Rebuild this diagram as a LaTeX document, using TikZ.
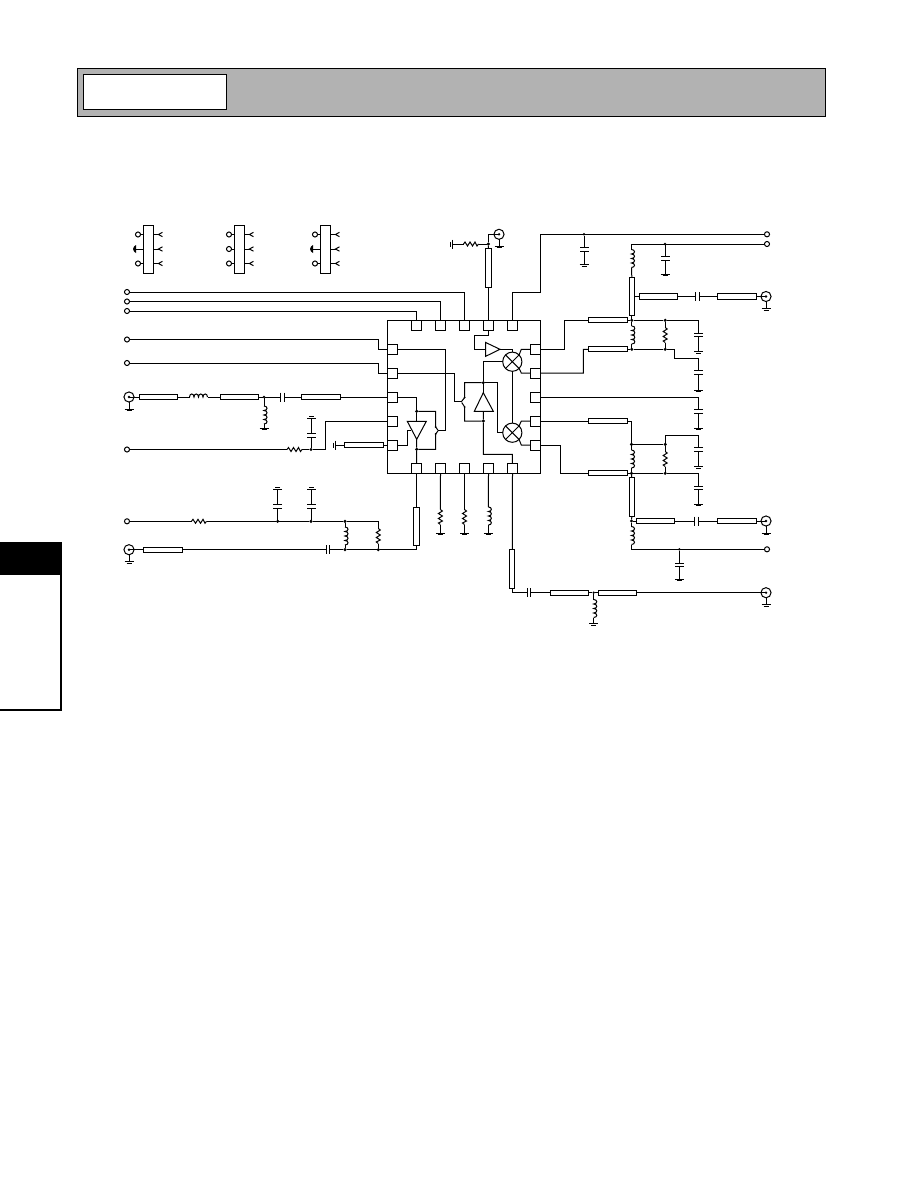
\documentclass[tikz,border=0pt]{standalone}
\usetikzlibrary{calc}
\tikzset{
  wire/.style={line width=0.75pt,line cap=butt,line join=miter},
  tlh/.style={draw,line width=0.75pt,fill=white,inner sep=0,outer sep=0,minimum width=29.2pt,minimum height=4pt},
  tlv/.style={draw,line width=0.75pt,fill=white,inner sep=0,outer sep=0,minimum width=4pt,minimum height=29.2pt},
  pinbox/.style={draw,line width=0.75pt,fill=white,inner sep=0,outer sep=0,minimum size=7.5pt},
  dotn/.style={circle,fill=black,inner sep=0,outer sep=0,minimum size=2.6pt},
  term/.style={circle,draw,line width=0.75pt,fill=white,inner sep=0,outer sep=0,minimum size=3.8pt},
  portn/.style={circle,draw,line width=0.75pt,fill=white,inner sep=0,outer sep=0,minimum size=7.6pt},
  mixn/.style={circle,draw,line width=0.75pt,inner sep=0,outer sep=0,minimum size=14.4pt},
  legbox/.style={draw,line width=0.75pt,fill=white,inner sep=0,outer sep=0,minimum width=7.5pt,minimum height=36pt},
  res/.pic={
    \draw[wire] (-7.5,0)--(-6,-2)--(-3.5,2)--(-1,-2)--(1.5,2)--(4,-2)--(6,2)--(7.5,0);
    \coordinate (-a) at (-7.5,0); \coordinate (-b) at (7.5,0);
  },
  ind/.pic={
    \draw[wire] (-9,0) .. controls (-9,-4) and (-4.5,-4) .. (-4.5,0)
       .. controls (-4.5,-4) and (0,-4) .. (0,0)
       .. controls (0,-4) and (4.5,-4) .. (4.5,0)
       .. controls (4.5,-4) and (9,-4) .. (9,0);
    \coordinate (-a) at (-9,0); \coordinate (-b) at (9,0);
  },
  cap/.pic={
    \draw[wire] (-1.8,-4.5)--(-1.8,4.5) (1.8,-4.5)--(1.8,4.5);
    \coordinate (-a) at (-1.8,0); \coordinate (-b) at (1.8,0);
  },
  gnd/.pic={
    \draw[wire] (-4.5,0)--(4.5,0);
    \draw[line width=0.75pt] (-2.5,1.5)--(2.5,1.5);
    \coordinate (-a) at (0,0);
  },
  fork/.pic={
    \draw[wire] (4,-2.2)--(0,0)--(4,2.2);
    \coordinate (-a) at (0,0);
  }
}
\newcommand{\legend}[4]{% name, x-centre, middle-type(0 term,1 gnd), (unused)
  \node[legbox] (#1) at (#2,249) {};
  \node[term] (#1t) at (#2-10.5,234.5) {};
  \node[term] (#1b) at (#2-10.5,263.5) {};
  \draw[wire] (#1t) -- (#1.west |- #1t);
  \draw[wire] (#1b) -- (#1.west |- #1b);
  \pic at (#2+10,234.5) {fork};
  \pic at (#2+10,249) {fork};
  \pic at (#2+10,263.5) {fork};
  \draw[wire] (#1.east |- 0,234.5) -- (#2+10,234.5);
  \draw[wire] (#1.east |- 0,249) -- (#2+10,249);
  \draw[wire] (#1.east |- 0,263.5) -- (#2+10,263.5);
  \ifnum#3=1
    \coordinate (#1g) at (#2-14,249);
    \fill (#1g) ++(1.5,-4) -- ++(0,8) -- ++(-2,-1.5) -- ++(-1,-2.5) -- ++(1,-2.5) -- cycle;
    \draw[wire] (#1g) -- (#1.west |- #1g);
  \else
    \node[term] (#1m) at (#2-10.5,249) {};
    \draw[wire] (#1m) -- (#1.west |- #1m);
  \fi
}
\newcommand{\port}[3]{% name, x, y
  \coordinate (#1) at (#2,#3);
  \node[portn] (#1c) at (#2,#3) {};
  \fill (#2,#3) circle[radius=1.3];
  \draw[wire] (#1c.south) -- (#2,#3+12);
  \pic at (#2,#3+12) {gnd};
}
\begin{document}
\begin{tikzpicture}[x=0.75pt,y=-0.75pt,line width=0.75pt]
\useasboundingbox (0,0) rectangle (918,1188);
% header
\node[draw,line width=0.75pt,fill=black!30,inner sep=0,outer sep=0,minimum width=561pt,minimum height=35.3pt] (hdr) at (451,92.5) {};
\node[draw,line width=0.75pt,fill=white,inner sep=0,outer sep=0,minimum width=107.2pt,minimum height=26.2pt] (hdrbox) at (155,92) {};
% side tab
\fill (0,542) rectangle (62,575);
\draw[line width=1.5pt] (61,542) -- (61,710) -- (0,710);
% legend
\legend{la}{148.5}{1}{}
\legend{lb}{239.5}{0}{}
\legend{lc}{325.5}{1}{}
% chip
\node[draw,line width=0.75pt,fill=white,inner sep=0,outer sep=0,minimum size=114.8pt] (chip) at (464,397) {};
\foreach \n/\x in {1/416.5,2/440.5,3/464.5,4/488.5,5/512.5}{
  \node[pinbox] (pT\n) at (\x,325.3) {};
  \node[pinbox] (pB\n) at (\x,468.5) {};
}
\foreach \n/\y in {1/349.3,2/373,3/397,4/421,5/445}{
  \node[pinbox] (pL\n) at (392.3,\y) {};
  \node[pinbox] (pR\n) at (535.3,\y) {};
}
% terminals left
\node[term] (tA) at (127,292) {};
\node[term] (tB) at (127,301.5) {};
\node[term] (tC) at (127,311) {};
\node[term] (tD) at (127,339.5) {};
\node[term] (tE) at (127,363) {};
\node[term] (tF) at (127,449.5) {};
\node[term] (tG) at (127,521.3) {};
\draw[wire] (tA) -| (pT3.north);
\draw[wire] (tB) -| (pT2.north);
\draw[wire] (tC) -| (pT1.north);
\draw[wire] (tD) -- (378,339.5) |- (pL1.west);
\draw[wire] (tE) -- (378,363) |- (pL2.west);
% left RF input
\port{pA}{129}{397}
\node[tlh] (t1) at (158.5,397) {};
\pic (l1) at (198.5,397) {ind};
\node[tlh] (t2) at (239.5,397) {};
\node[dotn,minimum size=2pt] (d1) at (264,397) {};
\pic (c1) at (282.5,397) {cap};
\node[tlh] (t3) at (321,397) {};
\pic[rotate=-90] (l2) at (264,415) {ind};
\pic (g1) at (264,428) {gnd};
\draw[wire] (pA) -- (t1.west);
\draw[wire] (t1.east) -- (l1-a);
\draw[wire] (l1-b) -- (t2.west);
\draw[wire] (t2.east) -- (d1) -- (c1-a);
\draw[wire] (c1-b) -- (t3.west);
\draw[wire] (t3.east) -- (pL3.west);
\draw[wire] (d1) -- (l2-a);
\draw[wire] (l2-b) -- (g1-a);
% left mid
\pic (r1) at (294.5,449.5) {res};
\node[dotn] (d2) at (311,449.5) {};
\pic[rotate=-90] (c2) at (311,435.3) {cap};
\pic[rotate=180] (g2) at (311,418.3) {gnd};
\draw[wire] (tF) -- (r1-a);
\draw[wire] (r1-b) -- (d2);
\draw[wire] (d2) -- (325.5,449.5) |- (pL4.west);
\draw[wire] (d2) -- (c2-b);
\draw[wire] (c2-a) -- (g2-a);
\node[tlh] (t4) at (364,445) {};
\pic[rotate=-90] (g3) at (335,445) {gnd};
\draw[wire] (g3-a) -- (t4.west);
\draw[wire] (t4.east) -- (pL5.west);
% lower left
\pic (r2) at (199,521.3) {res};
\node[dotn] (d3) at (277.7,521.3) {};
\node[dotn] (d4) at (311,521.3) {};
\node[dotn] (d5) at (345,521.3) {};
\coordinate (j1) at (378.3,521.3);
\pic[rotate=-90] (c3) at (277.7,506.7) {cap};
\pic[rotate=-90] (c4) at (311,506.7) {cap};
\pic[rotate=180] (g4) at (277.7,489.3) {gnd};
\pic[rotate=180] (g5) at (311,489.3) {gnd};
\pic[rotate=-90] (l3) at (345,536) {ind};
\pic[rotate=-90] (r3) at (378.3,536) {res};
\draw[wire] (tG) -- (r2-a);
\draw[wire] (r2-b) -- (d3) -- (d4) -- (d5) -- (j1) -- (r3-a);
\draw[wire] (d3) -- (c3-b);
\draw[wire] (d4) -- (c4-b);
\draw[wire] (c3-a) -- (g4-a);
\draw[wire] (c4-a) -- (g5-a);
\draw[wire] (d5) -- (l3-a);
\port{pB}{129}{549.7}
\node[tlh] (t5) at (163,549.7) {};
\pic (c5) at (328,549.7) {cap};
\node[dotn] (d6) at (345,549.7) {};
\node[dotn] (d7) at (378.3,549.7) {};
\node[tlv] (t6) at (416.5,526.5) {};
\draw[wire] (pB) -- (t5.west);
\draw[wire] (t5.east) -- (c5-a);
\draw[wire] (c5-b) -- (d6) -- (d7) -- (416.5,549.7) -- (t6.south);
\draw[wire] (t6.north) -- (pB1.south);
\draw[wire] (l3-b) -- (d6);
\draw[wire] (r3-b) -- (d7);
% top
\node[tlv] (t7) at (488.5,268.3) {};
\node[dotn] (d8) at (488.4,244) {};
\pic (r4) at (471,244) {res};
\pic[rotate=-90] (g6) at (452.3,244) {gnd};
\port{pC}{499}{234.3}
\draw[wire] (pT4.north) -- (t7.south);
\draw[wire] (t7.north) -- (d8);
\draw[wire] (d8) -- (r4-b);
\draw[wire] (r4-a) -- (g6-a);
\draw[wire] (d8) |- (pC);
% top right rails
\node[term] (tH) at (767,234.3) {};
\node[term] (tI) at (767,244) {};
\node[dotn,minimum size=2pt] (d9) at (584,234.3) {};
\pic[rotate=-90] (c6) at (584,249.5) {cap};
\pic (g7) at (584,264.5) {gnd};
\draw[wire] (pT5.north) |- (540.7,292.3) |- (tH);
\draw[wire] (d9) -- (c6-a);
\draw[wire] (c6-b) -- (g7-a);
\coordinate (j2) at (631.5,244);
\node[dotn,minimum size=2pt] (d10) at (665,244) {};
\pic[rotate=-90] (c7) at (665,258.5) {cap};
\pic (g8) at (665,274.3) {gnd};
\pic[rotate=-90] (l4) at (631.5,258.5) {ind};
\draw[wire] (j2) -- (tI);
\draw[wire] (d10) -- (c7-a);
\draw[wire] (c7-b) -- (g8-a);
\draw[wire] (j2) -- (l4-a);
\node[tlv] (t8) at (631.8,296.5) {};
\draw[wire] (l4-b) -- (t8.north);
\node[tlh] (t9) at (658.5,296.5) {};
\pic (c8) at (697.5,296.5) {cap};
\node[tlh] (t10) at (737,296.5) {};
\port{pD}{766}{296.5}
\draw[wire] (t8.east |- t9) -- (t9.west);
\draw[wire] (t9.east) -- (c8-a);
\draw[wire] (c8-b) -- (t10.west);
\draw[wire] (t10.east) -- (pD);
% right upper stage
\node[tlh] (t11) at (608,320.3) {};
\node[tlh] (t12) at (608,349.3) {};
\node[dotn] (d11) at (631.8,320.3) {};
\node[dotn] (d12) at (665.2,320.3) {};
\node[dotn] (d13) at (631.8,349.3) {};
\node[dotn] (d14) at (665.2,349.3) {};
\pic[rotate=-90] (l5) at (631.8,335) {ind};
\pic[rotate=-90] (r5) at (665.2,335) {res};
\draw[wire] (pR1.east) -- (564.3,349.3) |- (t11.west);
\draw[wire] (t11.east) -- (d11) -- (d12) -- (698.7,320.3);
\draw[wire] (t8.south) -- (d11);
\draw[wire] (pR2.east) -- (583.3,373.2) |- (t12.west);
\draw[wire] (t12.east) -- (d13) -- (d14) -- (674.3,349.3) |- (698.7,358.3);
\draw[wire] (d11) -- (l5-a);
\draw[wire] (l5-b) -- (d13);
\draw[wire] (d12) -- (r5-a);
\draw[wire] (r5-b) -- (d14);
\pic[rotate=-90] (c9) at (698.7,335) {cap};
\pic (g9) at (698.7,351.7) {gnd};
\draw[wire] (698.7,320.3) -- (c9-a);
\draw[wire] (c9-b) -- (g9-a);
\pic[rotate=-90] (c10) at (698.7,372.7) {cap};
\pic (g10) at (698.7,390) {gnd};
\draw[wire] (698.7,358.3) -- (c10-a);
\draw[wire] (c10-b) -- (g10-a);
\pic[rotate=-90] (c11) at (698.7,411.3) {cap};
\pic (g11) at (698.7,428.3) {gnd};
\draw[wire] (pR3.east) -| (c11-a);
\draw[wire] (c11-b) -- (g11-a);
% right lower stage
\node[tlh] (t13) at (608,421) {};
\node[tlh] (t14) at (608,473.3) {};
\node[dotn] (d15) at (631.5,444.4) {};
\node[dotn] (d16) at (665.2,444.4) {};
\node[dotn] (d17) at (631.5,473.3) {};
\node[dotn] (d18) at (665.2,473.3) {};
\pic[rotate=-90] (l6) at (631.5,459) {ind};
\pic[rotate=-90] (r6) at (665.2,459) {res};
\draw[wire] (pR4.east) -- (t13.west);
\draw[wire] (t13.east) -| (d15);
\draw[wire] (d15) -- (d16) |- (698.7,435.3);
\draw[wire] (pR5.east) -- (560.3,445) |- (t14.west);
\draw[wire] (t14.east) -- (d17) -- (d18) -- (698.7,473.3);
\draw[wire] (d15) -- (l6-a);
\draw[wire] (l6-b) -- (d17);
\draw[wire] (d16) -- (r6-a);
\draw[wire] (r6-b) -- (d18);
\pic[rotate=-90] (c12) at (698.7,449.5) {cap};
\pic (g12) at (698.7,466.7) {gnd};
\draw[wire] (698.7,435.3) -- (c12-a);
\draw[wire] (c12-b) -- (g12-a);
\pic[rotate=-90] (c13) at (698.7,488) {cap};
\pic (g13) at (698.7,504.3) {gnd};
\draw[wire] (698.7,473.3) -- (c13-a);
\draw[wire] (c13-b) -- (g13-a);
\node[tlv] (t15) at (631.8,497.3) {};
\node[dotn] (d19) at (631.5,521) {};
\node[tlh] (t16) at (655.5,521) {};
\pic (c14) at (696.7,521) {cap};
\node[tlh] (t17) at (737,521) {};
\port{pE}{766}{521}
\draw[wire] (d17) -- (t15.north);
\draw[wire] (t15.south) -- (d19);
\draw[wire] (d19) -- (t16.west);
\draw[wire] (t16.east) -- (c14-a);
\draw[wire] (c14-b) -- (t17.west);
\draw[wire] (t17.east) -- (pE);
\pic[rotate=-90] (l7) at (631.5,535.5) {ind};
\coordinate (j3) at (631.5,549.3);
\node[dotn,minimum size=2pt] (d20) at (679.3,549.3) {};
\node[term] (tJ) at (767,549.3) {};
\draw[wire] (d19) -- (l7-a);
\draw[wire] (l7-b) -- (j3) -- (tJ);
\pic[rotate=-90] (c15) at (679.3,565) {cap};
\pic (g14) at (679.3,579.3) {gnd};
\draw[wire] (d20) -- (c15-a);
\draw[wire] (c15-b) -- (g14-a);
% bottom chip pins
\pic[rotate=-90] (r7) at (440.4,517) {res};
\pic[rotate=-90] (r8) at (464.5,517) {res};
\pic[rotate=-90] (l8) at (488.4,516) {ind};
\pic (g15) at (440.4,533.3) {gnd};
\pic (g16) at (464.5,533.3) {gnd};
\pic (g17) at (488.4,533.3) {gnd};
\draw[wire] (pB2.south) -- (r7-a);
\draw[wire] (pB3.south) -- (r8-a);
\draw[wire] (pB4.south) -- (l8-a);
\draw[wire] (r7-b) -- (g15-a);
\draw[wire] (r8-b) -- (g16-a);
\draw[wire] (l8-b) -- (g17-a);
\node[tlv] (t18) at (512.3,568.8) {};
\pic (c16) at (529,592.7) {cap};
\node[tlh] (t19) at (569.5,592.7) {};
\node[dotn,minimum size=2pt] (d21) at (593.7,592.7) {};
\node[tlh] (t20) at (617.5,592.7) {};
\port{pF}{766}{592.7}
\pic[rotate=-90] (l9) at (593.7,608.5) {ind};
\pic (g18) at (593.7,623.5) {gnd};
\draw[wire] (pB5.south) -- (t18.north);
\draw[wire] (t18.south) |- (c16-a);
\draw[wire] (c16-b) -- (t19.west);
\draw[wire] (t19.east) -- (d21) -- (t20.west);
\draw[wire] (t20.east) -- (pF);
\draw[wire] (d21) -- (l9-a);
\draw[wire] (l9-b) -- (g18-a);
% chip internals
\coordinate (a1a) at (485.7,342.5); \coordinate (a1b) at (485.7,356.3); \coordinate (a1t) at (500,349.3);
\draw[wire] (a1a) -- (a1t) -- (a1b) -- cycle;
\draw[wire] (pT4.south) |- (474.3,335) |- (485.7,349.3);
\node[mixn] (m1) at (512.3,361.7) {};
\node[mixn] (m2) at (512.3,432.7) {};
\draw[wire] (m1.45)--(m1.225) (m1.135)--(m1.315);
\draw[wire] (m2.45)--(m2.225) (m2.135)--(m2.315);
\draw[wire] (a1t) -- (512.3,349.3) -- (m1.north);
\draw[wire] (m1.south) -- (m2.north);
\draw[wire] (pR1.west) -- (521.3,349.3) -- (m1.45);
\draw[wire] (pR2.west) -- (521.3,373) -- (m1.-45);
\draw[wire] (pR4.west) -- (521.3,421) -- (m2.45);
\draw[wire] (pR5.west) -- (521.3,445) -- (m2.-45);
% doubler triangle
\coordinate (a2t) at (483.3,392.7); \coordinate (a2l) at (474.3,411.3); \coordinate (a2r) at (493.3,411.3);
\draw[wire] (a2t) -- (a2l) -- (a2r) -- cycle;
\node[dotn] (d22) at (483.3,382.7) {};
\node[dotn] (d23) at (483.3,421) {};
\draw[wire] (m1.west) -- (483.3,361.7) -- (d22) -- (a2t);
\draw[wire] (d22) -- (464.7,382.7) -- (464.7,397.5) -- (461.7,401.3);
\draw[wire] (461.7,402.5) -- (464.7,407) -- (464.7,421) -- (d23);
\draw[wire] (d22) -- (497.3,382.7) |- (m2.west);
\draw[wire] (a2l -| d23) -- (d23) |- (512.3,454.3) -- (pB5.north);
\draw[wire] (pL2.east) -- (454.7,373) |- (461.7,401.3);
% switch dots
\fill (464.7,397.5) circle[radius=1];
\fill (464.7,407) circle[radius=1];
% left triangle
\coordinate (a3l) at (407.3,421.3); \coordinate (a3r) at (426.3,421.3); \coordinate (a3t) at (416.7,439.3);
\draw[wire] (a3l) -- (a3r) -- (a3t) -- cycle;
\node[dotn] (d24) at (416.7,411.3) {};
\node[dotn] (d25) at (416.7,449.3) {};
\draw[wire] (pL3.east) -- (416.7,397) -- (d24) -- (416.7,421.3);
\draw[wire] (a3t) -- (d25) -- (pB1.north);
\draw[wire] (d24) -- (435.7,411.3) -- (435.7,427) -- (438,430.3);
\draw[wire] (d25) -- (435.7,449.3) -- (435.7,434) -- (438,430.8);
\fill (435.7,427) circle[radius=1];
\fill (435.7,434) circle[radius=1];
\draw[wire] (pL1.east) -- (445.3,349.3) |- (438,430.3);
\draw[wire] (pL5.east) -- (407.3,445) |- (410.7,430.3);
\end{tikzpicture}
\end{document}
